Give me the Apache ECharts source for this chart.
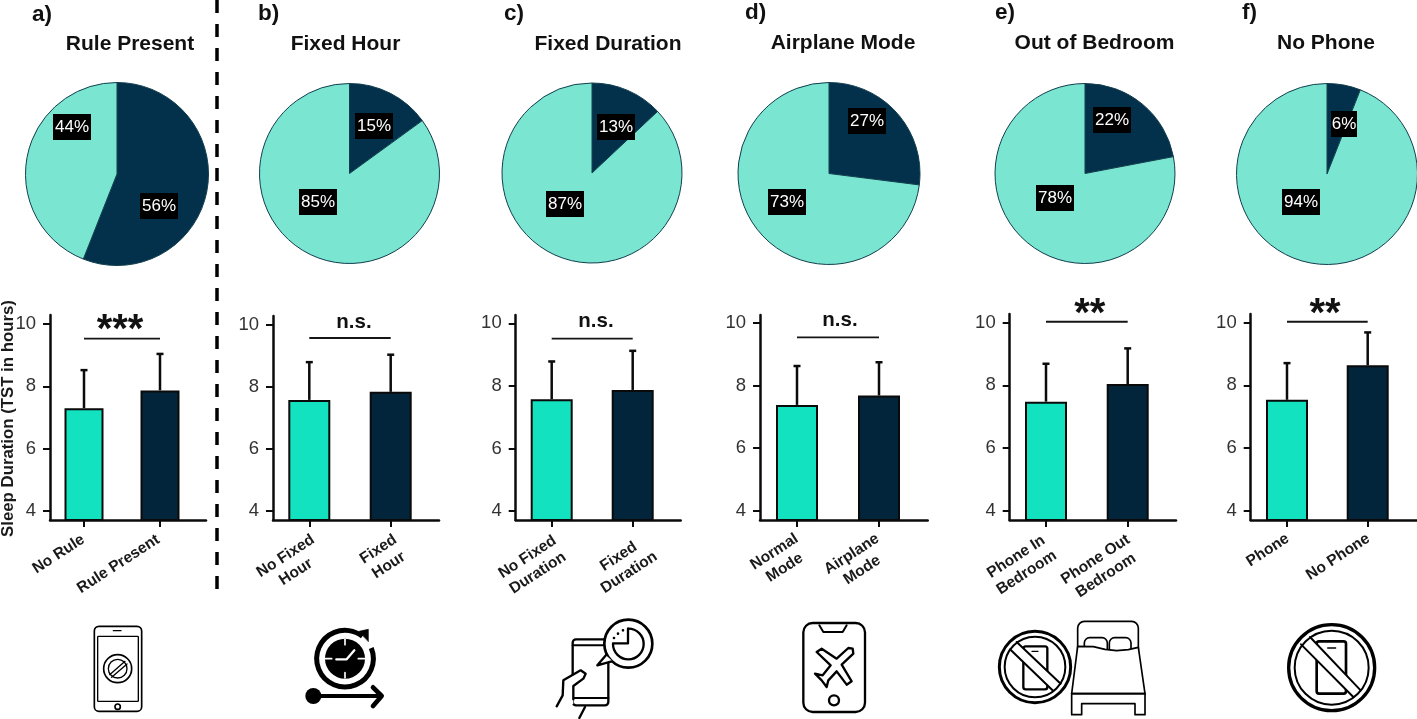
<!DOCTYPE html>
<html><head><meta charset="utf-8">
<style>html,body{margin:0;padding:0;background:#fff}#c{width:1417px;height:719px}</style>
<script src="https://cdn.jsdelivr.net/npm/echarts@6/dist/echarts.min.js"></script>
</head><body><div id="c"></div>
<script>
// ---- data ----
const panelLetters = ['a)','b)','c)','d)','e)','f)'];
const panelTitles = ['Rule Present','Fixed Hour','Fixed Duration','Airplane Mode','Out of Bedroom','No Phone'];
const pieValues = [[56,44],[15,85],[13,87],[27,73],[22,78],[6,94]];
const categories = [
  ['No Rule','Rule Present'],
  ['No Fixed\nHour','Fixed\nHour'],
  ['No Fixed\nDuration','Fixed\nDuration'],
  ['Normal\nMode','Airplane\nMode'],
  ['Phone In\nBedroom','Phone Out\nBedroom'],
  ['Phone','No Phone']
];
const means = [[7.30,7.87],[7.58,7.84],[7.57,7.87],[7.38,7.68],[7.48,8.04],[7.54,8.64]];
const errorTops = [[8.52,9.04],[8.80,9.04],[8.78,9.12],[8.62,8.74],[8.69,9.18],[8.71,9.69]];
const sigLabels = ['***','n.s.','n.s.','n.s.','**','**'];
const sigLevels = [9.53,9.58,9.51,9.53,10.03,10.03];
const yTicks = [4,6,8,10];
const yAxisName = 'Sleep Duration (TST in hours)';

// ---- layout & style ----
const FONT = '"Liberation Sans", Arial, sans-serif';
const TEAL = '#12E2BF', NAVY = '#03253B', PIE_LIGHT = '#7AE5D0', PIE_DARK = '#03304B', INK = '#0b0b0b';
const pieCenters = [[117,174],[349.5,173.5],[592,173],[829,173.5],[1085,173.5],[1327,174]];
const pieRadii = [91.5,90,90,91,90,90.5];
const pieLabelSpots = [[[159,206],[72,127]],[[374,126],[318,202]],[[616,127],[565,204]],[[867,121],[787,202]],[[1112,120],[1055,198]],[[1344,124],[1301,202]]];
const titleSpots = [[130,44],[345.5,44],[608,44],[843,43],[1094.5,43],[1326,43]];
const letterSpots = [[32,15],[258,14],[504,14],[745,13],[995,13],[1242,13]];
const axisLefts = [50,273,515.7,760,1009.7,1250.7];
const axisRights = [206,439,680.7,927.7,1176,1417];
const axisTops = [315,316,315,315,314,314];
const axisBottom = 520;
const barCentersPx = [[84,160],[309.3,390.7],[551.7,632.7],[797,879],[1046,1127.7],[1287,1367.7]];
const tick10Px = [324,325,323.3,322.7,322.7,322.7];
const tick4Px = [511,510.7,511,511,510.7,510.7];
const barWidths = [39,42,42,42,42,42];
const sigTextPos = [[120,331],[354,322],[596,321],[840,320],[1089.7,315],[1325,315]];
const xLabelShift = [[-5.5,-6.5],[-1,0],[-1.5,8],[-5,-6],[-6,-4],[-4,-4]];
const xLabelMargin = [10,10,11,9,10,9];

const LABEL_SIZE = 15.5;
const measureCtx = document.createElement('canvas').getContext('2d');
measureCtx.font = 'bold '+LABEL_SIZE+'px ' + FONT;

const grid=[], xAxis=[], yAxis=[], series=[], title=[];
panelTitles.forEach((t,i)=>{
  title.push({text:t,left:titleSpots[i][0],top:titleSpots[i][1],textAlign:'center',textVerticalAlign:'middle',
    textStyle:{fontFamily:FONT,fontWeight:'bold',fontSize:21,color:'#111'},padding:0});
  title.push({text:panelLetters[i],left:letterSpots[i][0],top:letterSpots[i][1],textAlign:'left',textVerticalAlign:'middle',
    textStyle:{fontFamily:FONT,fontWeight:'bold',fontSize:22.5,color:'#111'},padding:0});

  series.push({type:'pie',center:pieCenters[i],radius:pieRadii[i],startAngle:90,clockwise:true,silent:true,
    data:pieValues[i].map((v,k)=>({value:v,name:k?'Other':t,itemStyle:{color:k?PIE_LIGHT:PIE_DARK},
      label:{width:v<10?26:38}})),
    itemStyle:{borderColor:'#123f4e',borderWidth:1},
    labelLine:{show:false},
    label:{show:true,position:'inside',formatter:'{c}%',color:'#fff',backgroundColor:'#000',fontFamily:FONT,fontSize:17,
      height:26,lineHeight:26,align:'center'},
    labelLayout:p=>({x:pieLabelSpots[i][p.dataIndex][0],y:pieLabelSpots[i][p.dataIndex][1],align:'center',verticalAlign:'middle'})
  });

  const left=axisLefts[i], right=axisRights[i], top=axisTops[i];
  grid.push({left:left,top:top,width:right-left,height:axisBottom-top,containLabel:false,outerBoundsMode:'none'});
  const [x0,x1]=barCentersPx[i];
  const stepX=x1-x0;
  const pxPerY=(tick4Px[i]-tick10Px[i])/6;
  const rich={};
  categories[i].forEach((c,k)=>{
    const w=Math.max(...c.split('\n').map(s=>measureCtx.measureText(s).width))+1;
    rich['c'+k]={width:w,align:'center',fontFamily:FONT,fontWeight:'bold',fontSize:LABEL_SIZE,lineHeight:19,color:'#1a1a1a'};
  });
  xAxis.push({type:'value',gridIndex:i,min:-(x0-left)/stepX,max:1+(right-x1)/stepX,
    axisLine:{show:true,onZero:false,lineStyle:{color:INK,width:2.5}},
    axisTick:{show:true,customValues:[0,1],length:7,lineStyle:{color:INK,width:2}},
    splitLine:{show:false},
    axisLabel:{show:true,customValues:[xLabelShift[i][0]/stepX,1+xLabelShift[i][1]/stepX],rotate:33,align:'right',verticalAlign:'top',margin:xLabelMargin[i],
      formatter:v=>{const k=Math.round(v);return categories[i][k].split('\n').map(s=>`{c${k}|${s}}`).join('\n');},rich:rich}
  });
  yAxis.push({type:'value',gridIndex:i,min:4-(axisBottom-tick4Px[i])/pxPerY,max:10+(tick10Px[i]-top)/pxPerY,
    axisLine:{show:true,onZero:false,lineStyle:{color:INK,width:2.5}},
    axisTick:{show:true,customValues:yTicks,length:7,lineStyle:{color:INK,width:2}},
    splitLine:{show:false},
    axisLabel:{show:true,customValues:yTicks,margin:14,fontFamily:FONT,fontSize:18.5,color:'#333'}
  });
  series.push({type:'bar',xAxisIndex:i,yAxisIndex:i,barWidth:barWidths[i],silent:true,
    data:means[i].map((v,k)=>({value:[k,v],itemStyle:{color:k?NAVY:TEAL,borderColor:'#0a0a0a',borderWidth:2}}))});
  series.push({type:'custom',xAxisIndex:i,yAxisIndex:i,silent:true,z:1,
    data:means[i].map((v,k)=>[k,v,errorTops[i][k]]),encode:{x:0,y:2},
    renderItem:(p,api)=>{
      const a=api.coord([api.value(0),api.value(1)]), b=api.coord([api.value(0),api.value(2)]);
      const st={stroke:INK,lineWidth:2.5,fill:null};
      return {type:'group',children:[
        {type:'line',shape:{x1:a[0],y1:a[1],x2:b[0],y2:b[1]},style:st},
        {type:'line',shape:{x1:b[0]-3.5,y1:b[1],x2:b[0]+3.5,y2:b[1]},style:st}]};
    }});
  series.push({type:'custom',xAxisIndex:i,yAxisIndex:i,silent:true,
    data:[[0,1,sigLevels[i]]],encode:{x:[0,1],y:2},
    renderItem:(p,api)=>{
      const a=api.coord([api.value(0),api.value(2)]), b=api.coord([api.value(1),api.value(2)]);
      const stars=sigLabels[i].includes('*');
      return {type:'group',children:[
        {type:'line',shape:{x1:a[0],y1:a[1],x2:b[0],y2:a[1]},style:{stroke:'#151515',lineWidth:1.8}},
        {type:'text',style:{x:sigTextPos[i][0],y:sigTextPos[i][1],text:sigLabels[i],align:'center',verticalAlign:'middle',
          font:(stars?'bold 40px ':'bold 20.5px ')+FONT,fill:'#111'}}]};
    }});
});

// ---- decorative icons (drawn in 3x crop coordinates) ----
const S=(w,extra)=>Object.assign({stroke:'#000',lineWidth:w,fill:null,lineCap:'round',lineJoin:'round'},extra||{});
const rect=(x0,y0,x1,y1,r,w)=>({type:'rect',shape:{x:x0,y:y0,width:x1-x0,height:y1-y0,r:r},style:S(w)});
const ln=(a,b,c,d,w,col)=>({type:'line',shape:{x1:a,y1:b,x2:c,y2:d},style:S(w,col?{stroke:col}:null)});
const circ=(x,y,r,w)=>({type:'circle',shape:{cx:x,cy:y,r:r},style:S(w)});
const poly=(pts,w,smooth)=>({type:'polyline',shape:{points:pts,smooth:smooth||0},style:S(w)});
const pgon=(pts,w,fill)=>({type:'polygon',shape:{points:pts},style:S(w,{fill:fill||null})});
const icon=(x,y,children)=>({type:'group',x:x,y:y,scaleX:1/3,scaleY:1/3,silent:true,children:children});
const deg=d=>d*Math.PI/180;

const prohibitedPhone=(cx,cy,R,rIn,wOut,wIn,ph,band,spk)=>[
  rect(ph[0],ph[1],ph[2],ph[3],7,ph[4]),
  ln(spk[0],spk[1],spk[2],spk[1],4),
  pgon(band,0,'#fff'),
  ln(band[0][0],band[0][1],band[1][0],band[1][1],wIn),
  ln(band[3][0],band[3][1],band[2][0],band[2][1],wIn),
  circ(cx,cy,R,wOut),
  circ(cx,cy,rIn,wIn)
];

const graphicEls=[
  {type:'text',silent:true,x:8.5,y:418.5,rotation:Math.PI/2,
    style:{text:yAxisName,x:0,y:0,textAlign:'center',textVerticalAlign:'middle',align:'center',verticalAlign:'middle',font:'bold 16.8px '+FONT,fill:'#1a1a1a'}},
  {type:'line',silent:true,shape:{x1:217,y1:0,x2:217,y2:597},style:{stroke:'#000',lineWidth:3.5,lineDash:[13,11]}},
  // a) phone with no-symbol
  icon(85,612,[
    rect(28,43,170,298,14,5),
    rect(38,73,160,268,2,4),
    ln(85,56,108,56,4),
    circ(98,284,8,5),
    circ(98,170,42,5),
    circ(98,170,28,4),
    ln(74,188,120,148,4),
    ln(80,196,126,156,4)
  ]),
  // b) clock + arrow
  icon(85,612,[
    {type:'arc',shape:{cx:780,cy:140,r:85,startAngle:deg(-22),endAngle:deg(-52),clockwise:true},style:S(15,{lineCap:'butt'})},
    pgon([[822,58],[850,52],[850,88]],2,'#000'),
    {type:'circle',shape:{cx:780,cy:140,r:60},style:{fill:'#000'}},
    ln(780,82,780,98,5,'#fff'),ln(780,182,780,198,5,'#fff'),ln(722,140,740,140,5,'#fff'),ln(820,140,838,140,5,'#fff'),
    {type:'polyline',shape:{points:[[754,142],[785,142],[808,115]]},style:S(7,{stroke:'#fff'})},
    {type:'circle',shape:{cx:685,cy:252,r:24},style:{fill:'#000'}},
    ln(685,252,888,252,12),
    poly([[864,226],[890,252],[864,282]],14)
  ]),
  // c) hand, phone and clock bubble
  icon(540,612,[
    rect(98,82,205,280,10,7),
    ln(98,100,192,100,6),
    ln(98,258,205,258,6),
    {type:'circle',shape:{cx:265,cy:95,r:72},style:S(8,{fill:'#fff'})},
    pgon([[196,128],[172,160],[218,148]],0,'#fff'),
    poly([[199,128],[172,160],[215,148]],7),
    {type:'arc',shape:{cx:265,cy:96,r:46,startAngle:deg(-90),endAngle:deg(180),clockwise:true},style:S(7)},
    poly([[264,50],[264,94],[219,94]],7),
    circ(222,78,2,4),circ(234,65,2,4),circ(249,55,2,4),
    pgon([[50,283],[68,250],[70,205],[122,175],[137,185],[130,200],[100,222],[100,275],[80,290]],0,'#fff'),
    poly([[50,283],[68,250],[70,205],[122,175],[137,185],[130,200],[100,222],[100,262]],7),
    ln(135,285,118,318,7)
  ]),
  // d) phone with plane
  icon(540,612,[
    rect(790,33,975,300,28,7),
    poly([[838,40],[850,60],[908,60],[920,40]],6),
    circ(882,265,15,7),
    pgon([[938,110],[925,108],[890,140],[845,110],[830,120],[872,160],[848,190],[825,185],[845,205],[860,225],[865,205],[890,178],[920,218],[935,208],[905,158],[940,125]],7)
  ]),
  // e) no phone + bed
  icon(990,612,prohibitedPhone(135,165,107,91,9,6,[100,103,172,232,7],[[60,112],[190,237],[212,215],[80,90]],[126,118,144]).concat([
    rect(263,28,445,180,20,5),
    rect(283,77,352,140,16,5),
    rect(358,77,423,140,16,5),
    pgon([[263,103],[310,104],[345,112],[380,116],[415,113],[445,106],[465,245],[245,245]],5,'#fff'),
    ln(245,245,465,245,5),
    poly([[245,245],[245,308],[275,308],[275,275],[435,275],[435,308],[465,308],[465,245]],5)
  ])),
  // f) no phone
  icon(1270,612,prohibitedPhone(185,167,129,111,10,6,[140,88,228,245,8],[[93,97],[250,255],[272,235],[120,75]],[173,108,197]))
];

const chart=echarts.init(document.getElementById('c'),null,{renderer:'canvas'});
chart.setOption({animation:false,backgroundColor:'#fff',title,grid,xAxis,yAxis,series,graphic:{elements:graphicEls},tooltip:{show:false}});
</script></body></html>
